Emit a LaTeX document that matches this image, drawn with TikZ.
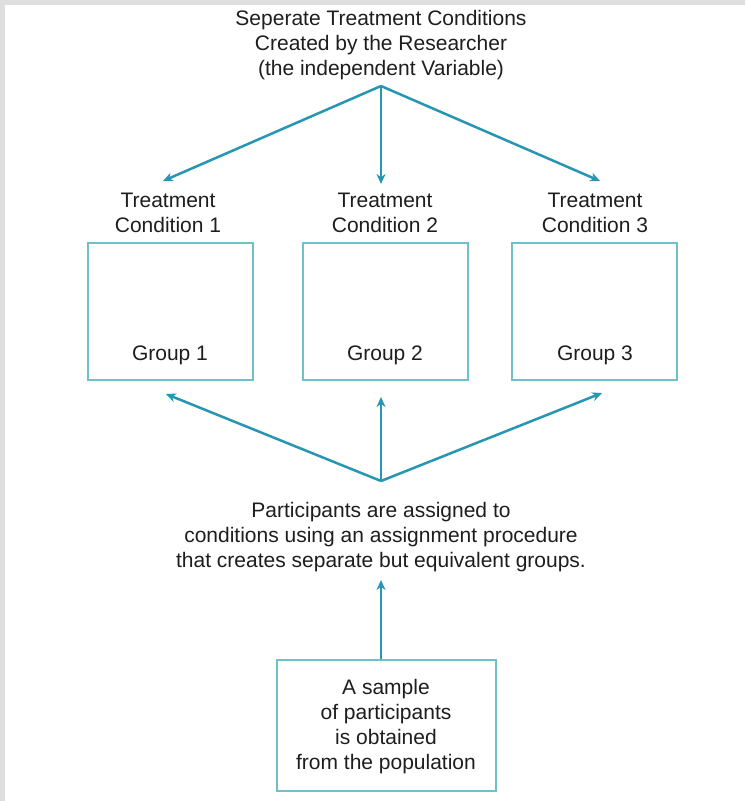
\documentclass[tikz,border=0pt]{standalone}
\usepackage{fontspec}
\setmainfont{Liberation Sans}
\usetikzlibrary{arrows.meta}
\definecolor{arrowc}{RGB}{38,150,178}
\definecolor{boxc}{RGB}{112,192,202}
\definecolor{txtc}{RGB}{30,30,30}
\definecolor{edgegray}{RGB}{222,222,222}
\begin{document}
\begin{tikzpicture}[x=1pt,y=-1pt,
  txt/.style={text=txtc,font=\fontsize{21}{25}\selectfont,align=center,inner sep=0pt},
  grpbox/.style={draw=boxc,line width=1.8pt,minimum width=165pt,minimum height=137pt,inner sep=0pt},
  arr/.style={draw=arrowc,line width=2.5pt,-{Stealth[length=10pt,width=9pt]}}]
\useasboundingbox (0,0) rectangle (745,801);
\fill[edgegray] (0,0) rectangle (745,801);
\fill[white] (5,5) rectangle (745,801);
% title
\node[txt] (title) at (381,45) {Seperate Treatment Conditions\\Created by the Researcher\\(the independent Variable)};
\coordinate (apex) at (381,86);
\coordinate (t1) at (163,181);
\coordinate (t2) at (381,184);
\coordinate (t3) at (600,181);
\draw[arr] (apex) -- (t1);
\draw[arr] (apex) -- (t2);
\draw[arr] (apex) -- (t3);
% condition labels
\node[txt] (tc1) at (168,213) {Treatment\\Condition 1};
\node[txt] (tc2) at (385,213) {Treatment\\Condition 2};
\node[txt] (tc3) at (595,213) {Treatment\\Condition 3};
% boxes
\node[grpbox] (g1) at (170.5,311.5) {};
\node[grpbox] (g2) at (385.5,311.5) {};
\node[grpbox] (g3) at (594.5,311.5) {};
\node[txt] (gl1) at (170,355) {Group 1};
\node[txt] (gl2) at (385,355) {Group 2};
\node[txt] (gl3) at (595,355) {Group 3};
% assignment
\node[txt] (assign) at (381,537) {Participants are assigned to\\conditions using an assignment procedure\\that creates separate but equivalent groups.};
\coordinate (hub) at (381,481);
\coordinate (b1) at (166,394);
\coordinate (b2) at (381,397);
\coordinate (b3) at (602,393);
\draw[arr] (hub) -- (b1);
\draw[arr] (hub) -- (b2);
\draw[arr] (hub) -- (b3);
% sample
\node[draw=boxc,line width=1.8pt,minimum width=219pt,minimum height=131pt,inner sep=0pt] (samplebox) at (386.5,725.5) {};
\node[txt] (sample) at (386,727) {A sample\\of participants\\is obtained\\from the population};
\coordinate (up) at (381,580);
\draw[arr] (samplebox.north -| up) -- (up);
\end{tikzpicture}
\end{document}
